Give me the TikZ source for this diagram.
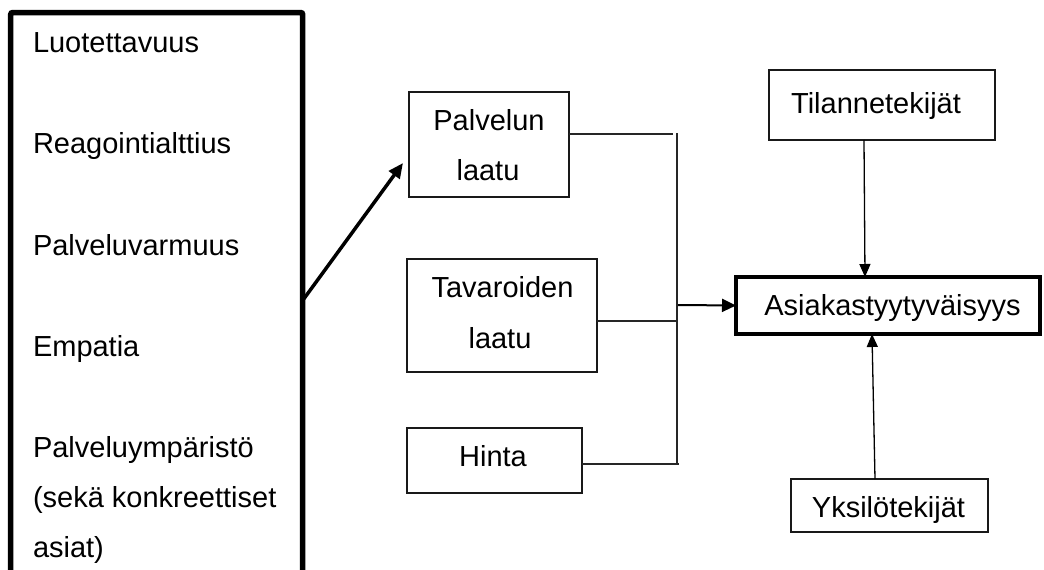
\documentclass[tikz,border=0pt]{standalone}
\usepackage{fontspec}
\setmainfont{Liberation Sans}
\usetikzlibrary{arrows.meta}
\begin{document}
\begin{tikzpicture}[x=1pt,y=-1pt,
  every node/.style={inner sep=0pt,outer sep=0pt},
  txt/.style={font=\fontsize{29}{50}\selectfont,anchor=base},
  ltxt/.style={font=\fontsize{29}{50}\selectfont,anchor=base west},
  thinbox/.style={draw=black!90,line width=1.3pt,rectangle},
  thickbox/.style={draw=black,line width=4pt,rectangle},
  thinline/.style={draw=black!85,line width=1.3pt},
  thinarrow/.style={draw=black,line width=1.3pt,-{Triangle[length=13pt,width=11pt]}},
  midarrow/.style={draw=black,line width=2pt,-{Triangle[length=14pt,width=13pt]}},
  bigarrow/.style={draw=black,line width=3.5pt,-{Triangle[length=15pt,width=13pt]}}
]
\useasboundingbox (0,0) rectangle (1044,570);
\begin{scope}
\clip (0,0) rectangle (1044,570);
\node[draw=black,line width=5.5pt,rounded corners=2pt,minimum width=292pt,minimum height=620pt,anchor=north west] (lb) at (10.7,12.5) {};
\end{scope}
% left texts
\node[ltxt] (t1) at (33,52) {Luotettavuus};
\node[ltxt] (t2) at (33,153) {Reagointialttius};
\node[ltxt] (t3) at (33,255) {Palveluvarmuus};
\node[ltxt] (t4) at (33,356) {Empatia};
\node[ltxt] (t5) at (33,457) {Palveluympäristö};
\node[ltxt] (t6) at (33,507) {(sekä konkreettiset};
\node[ltxt] (t7) at (33,557) {asiat)};
% middle boxes
\node[thinbox,minimum width=160pt,minimum height=105pt] (pl) at (489,144.5) {};
\node[txt] (plt1) at (489,130) {Palvelun};
\node[txt] (plt2) at (488,180) {laatu};
\node[thinbox,minimum width=190pt,minimum height=113pt] (tv) at (502,315.5) {};
\node[txt] (tvt1) at (502.5,297) {Tavaroiden};
\node[txt] (tvt2) at (500,348) {laatu};
\node[thinbox,minimum width=175pt,minimum height=65pt] (hi) at (494.5,460.5) {};
\node[txt] (hit) at (493,466) {Hinta};
% right boxes
\node[thinbox,minimum width=226pt,minimum height=70pt] (ti) at (882,105) {};
\node[txt] (tit) at (876,113) {Tilannetekijät};
\node[thickbox,minimum width=304pt,minimum height=57pt] (as) at (888,305.5) {};
\node[txt] (ast) at (892.5,315) {Asiakastyytyväisyys};
\node[thinbox,minimum width=197pt,minimum height=53pt] (yk) at (889.5,505.5) {};
\node[txt] (ykt) at (888.5,517) {Yksilötekijät};
% bracket
\coordinate (bt) at (677,133);
\coordinate (bb) at (677,465);
\coordinate (j1) at (673,134);
\coordinate (j2) at (677,321);
\coordinate (j3) at (679,464);
\coordinate (j0) at (678,305);
\coordinate (a0) at (303,300);
\draw[thinline] (bt) -- (bb);
\draw[thinline] ([yshift=10.5pt]pl.east) -- (j1);
\draw[thinline] ([yshift=-5.5pt]tv.east) -- (j2);
\draw[thinline] ([yshift=-3.5pt]hi.east) -- (j3);
% arrows
\draw[bigarrow] (a0) -- ([xshift=-6pt,yshift=-18.5pt]pl.west);
\draw[midarrow] (j0) -- (as.west);
\draw[thinarrow] ([xshift=-18pt]ti.south) -- ([xshift=-23pt]as.north);
\draw[thinarrow] ([xshift=-14.5pt]yk.north) -- ([xshift=-16pt]as.south);
\end{tikzpicture}
\end{document}
